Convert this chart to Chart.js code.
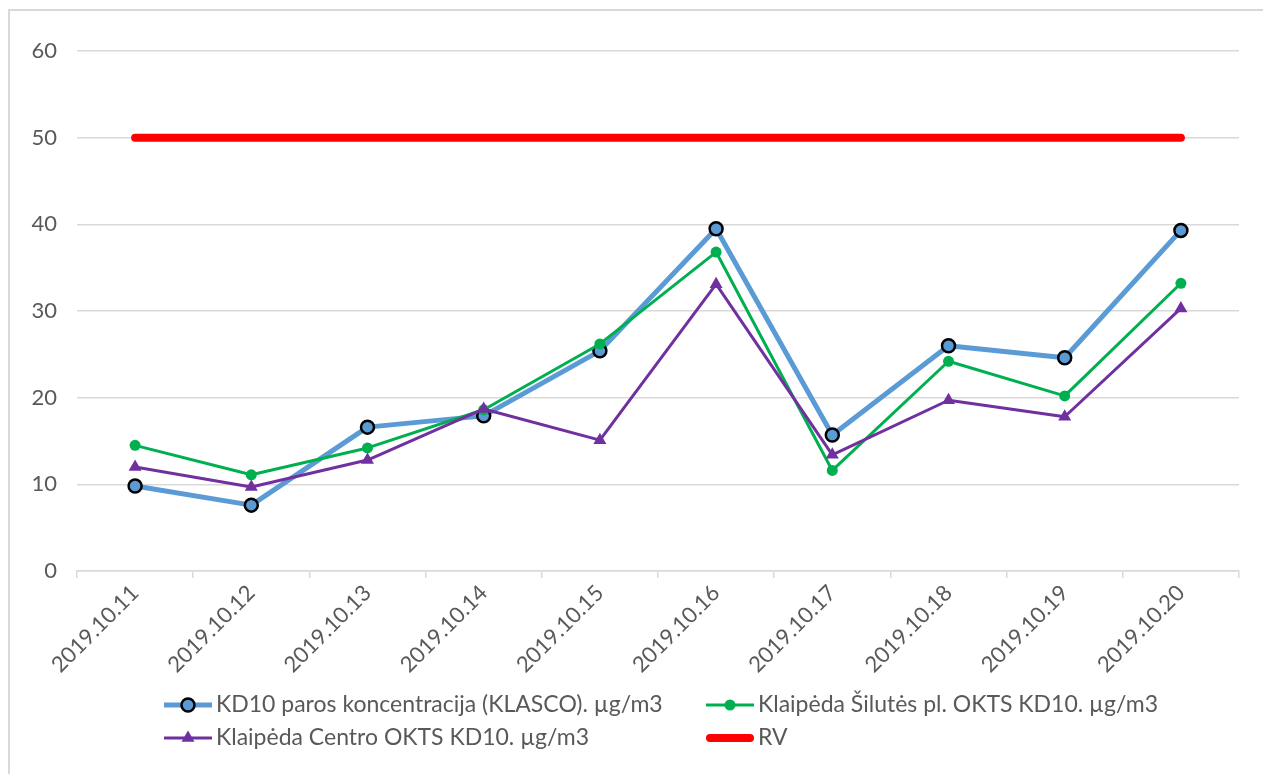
<!DOCTYPE html>
<html>
<head>
<meta charset="utf-8">
<script src="https://cdn.jsdelivr.net/npm/chart.js@4"></script>
<style>
  html, body { margin: 0; padding: 0; background: #fff; overflow: hidden; }
  #frame { position: absolute; left: 8px; top: 9px; width: 1300px; height: 800px;
           border-top: 2px solid #d9d9d9; border-left: 2px solid #d9d9d9; }
  #wrap { position: absolute; left: 0; top: 0; width: 1263px; height: 774px; }
</style>
</head>
<body>
<div id="frame"></div>
<div id="wrap"><canvas id="chart" width="1263" height="774"></canvas></div>
<script>
// days on the x axis
const dates = ['2019.10.11', '2019.10.12', '2019.10.13', '2019.10.14', '2019.10.15',
               '2019.10.16', '2019.10.17', '2019.10.18', '2019.10.19', '2019.10.20'];

// KD10 daily values, ug/m3
const klasco  = [9.8, 7.6, 16.6, 17.9, 25.4, 39.5, 15.7, 26.0, 24.6, 39.3];
const silutes = [14.5, 11.1, 14.2, 18.6, 26.2, 36.8, 11.6, 24.2, 20.2, 33.2];
const centro  = [12.0, 9.7, 12.8, 18.7, 15.1, 33.1, 13.4, 19.7, 17.8, 30.3];
// limit value
const rv      = [50, 50, 50, 50, 50, 50, 50, 50, 50, 50];

const seriesNames = ['KD10 paros koncentracija (KLASCO). µg/m3',
                     'Klaipėda Šilutės pl. OKTS KD10. µg/m3',
                     'Klaipėda Centro OKTS KD10. µg/m3',
                     'RV'];

const fontName = 'Lato, "Liberation Sans", sans-serif';
const textGray = '#595959';

// legend laid out in two columns under the axis, like the excel one
const legendSpots = [[164, 705], [706, 705], [164, 738], [706, 738]];
const bottomLegend = {
  id: 'bottomLegend',
  afterDraw(chart) {
    const ctx = chart.ctx;
    chart.data.datasets.forEach((ds, i) => {
      const [x, y] = legendSpots[i];
      const round = ds.borderCapStyle === 'round';
      ctx.save();
      ctx.strokeStyle = ds.borderColor;
      ctx.lineWidth = ds.borderWidth;
      ctx.lineCap = ds.borderCapStyle || 'butt';
      ctx.beginPath();
      ctx.moveTo(x + (round ? 4 : 0), y);
      ctx.lineTo(x + 48 - (round ? 4 : 0), y);
      ctx.stroke();
      if (ds.pointRadius > 0) {
        ctx.fillStyle = ds.pointBackgroundColor;
        ctx.strokeStyle = ds.pointBorderColor;
        ctx.lineWidth = ds.pointBorderWidth;
        Chart.helpers.drawPoint(ctx, {
          pointStyle: ds.pointStyle, radius: ds.pointRadius,
          borderWidth: ds.pointBorderWidth, rotation: 0
        }, x + 24, y);
      }
      ctx.fillStyle = textGray;
      ctx.font = '23px ' + fontName;
      ctx.textBaseline = 'middle';
      ctx.textAlign = 'left';
      ctx.fillText(ds.label, x + 52, y);
      ctx.restore();
    });
  }
};

const ctx = document.getElementById('chart').getContext('2d');
const myChart = new Chart(ctx, {
  type: 'line',
  data: {
    labels: dates,
    datasets: [{
      label: seriesNames[0],
      data: klasco,
      borderColor: '#5B9BD5',
      borderWidth: 5,
      pointStyle: 'circle',
      pointRadius: 6.5,
      pointBackgroundColor: '#5B9BD5',
      pointBorderColor: '#000000',
      pointBorderWidth: 2.5,
      borderJoinStyle: 'round',
      order: 3
    }, {
      label: seriesNames[1],
      data: silutes,
      borderColor: '#00B050',
      borderWidth: 3,
      pointStyle: 'circle',
      pointRadius: 5.5,
      pointBackgroundColor: '#00B050',
      pointBorderColor: '#00B050',
      pointBorderWidth: 0,
      borderJoinStyle: 'round',
      order: 2
    }, {
      label: seriesNames[2],
      data: centro,
      borderColor: '#7030A0',
      borderWidth: 3,
      pointStyle: 'triangle',
      pointRadius: 7.5,
      pointBackgroundColor: '#7030A0',
      pointBorderColor: '#7030A0',
      pointBorderWidth: 0,
      borderJoinStyle: 'round',
      order: 1
    }, {
      label: seriesNames[3],
      data: rv,
      borderColor: '#FF0000',
      borderWidth: 8,
      borderCapStyle: 'round',
      pointRadius: 0,
      order: 0
    }]
  },
  options: {
    responsive: false,
    animation: false,
    layout: { padding: { left: 0, top: 51, right: 24, bottom: 83 } },
    plugins: {
      legend: { display: false },
      tooltip: { enabled: false }
    },
    elements: { line: { tension: 0 } },
    scales: {
      x: {
        offset: true,
        afterFit: (s) => { s.height = 120; },
        grid: { offset: true, drawOnChartArea: false, tickLength: 7, color: '#d9d9d9', lineWidth: 1.5 },
        border: { color: '#d9d9d9', width: 1.5 },
        ticks: { maxRotation: 45, minRotation: 45, padding: 2, color: textGray,
                 font: { family: fontName, size: 22 } }
      },
      y: {
        min: 0,
        max: 60,
        afterFit: (s) => { s.width = 77; },
        grid: { drawTicks: false, color: '#d9d9d9', lineWidth: 1.5 },
        border: { display: false },
        ticks: { stepSize: 10, padding: 20, color: textGray,
                 font: { family: fontName, size: 22 } }
      }
    }
  },
  plugins: [bottomLegend]
});
</script>
</body>
</html>
